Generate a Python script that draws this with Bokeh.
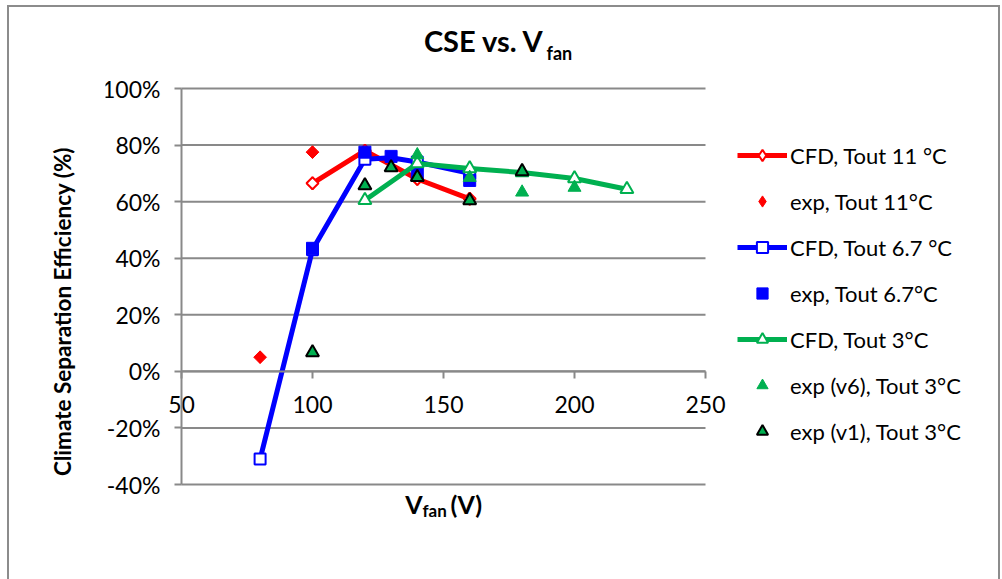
import math
from bokeh.plotting import figure
from bokeh.models import (Legend, LegendItem, Label, LinearAxis, FixedTicker,
                          NumeralTickFormatter, Range1d, InlineStyleSheet)
from bokeh.embed import file_html
from bokeh.resources import INLINE

# ---------------- data ----------------
cfd11_x = [100, 120, 140, 160]
cfd11_y = [0.665, 0.78, 0.68, 0.61]
exp11_x = [80, 100]
exp11_y = [0.05, 0.775]

cfd67_x = [80, 100, 120, 130, 140, 160]
cfd67_y = [-0.31, 0.43, 0.75, 0.755, 0.74, 0.70]
cfd67_marker_x = [80, 100, 120, 140, 160]
cfd67_marker_y = [-0.31, 0.43, 0.75, 0.74, 0.70]
exp67_x = [100, 120, 130, 140, 160]
exp67_y = [0.435, 0.775, 0.76, 0.70, 0.675]

cfd3_x = [120, 140, 160, 180, 200, 220]
cfd3_y = [0.605, 0.735, 0.717, 0.703, 0.682, 0.644]
expv6_x = [140, 160, 180, 200]
expv6_y = [0.765, 0.685, 0.633, 0.65]
expv1_x = [100, 120, 130, 140, 160, 180]
expv1_y = [0.067, 0.657, 0.721, 0.686, 0.604, 0.707]

x_ticks = [50, 100, 150, 200, 250]
y_ticks = [-0.4, -0.2, 0.0, 0.2, 0.4, 0.6, 0.8, 1.0]

RED = "#FF0000"
BLUE = "#0000FF"
GREEN = "#00B050"
GRID = "#898989"
FONT = "Lato"

W, H = 1002, 579
# pixel box where the value grid lives
PX_L, PX_R, PX_T, PX_B = 181, 705, 88, 484
# frame (large, so texts are not clipped)
FL, FR, FT, FB = 105, W, 0, H - 56

kx = (PX_R - PX_L) / (x_ticks[-1] - x_ticks[0])
ky = (PX_B - PX_T) / (y_ticks[-1] - y_ticks[0])
x_range = Range1d(x_ticks[0] - (PX_L - FL) / kx, x_ticks[-1] + (FR - PX_R) / kx)
y_range = Range1d(y_ticks[0] - (FB - PX_B) / ky, y_ticks[-1] + (PX_T - FT) / ky)

p = figure(width=W, height=H, output_backend="svg", toolbar_location=None,
           x_range=x_range, y_range=y_range,
           x_axis_location=None, y_axis_location=None,
           min_border_left=FL, min_border_right=W - FR,
           min_border_top=FT, min_border_bottom=H - FB)
p.outline_line_color = None
p.background_fill_color = "white"
p.border_fill_color = "white"
p.grid.visible = False

# horizontal value grid lines (at the y tick values, spanning the x tick extent)
p.segment(x0=x_ticks[0], x1=x_ticks[-1], y0=y_ticks, y1=y_ticks,
          line_color=GRID, line_width=2)


def style_axis(ax, standoff):
    ax.axis_line_color = GRID
    ax.axis_line_width = 2
    ax.major_tick_line_color = GRID
    ax.major_tick_line_width = 2
    ax.major_tick_out = 7
    ax.major_tick_in = 0
    ax.minor_tick_line_color = None
    ax.major_label_text_font = FONT
    ax.major_label_text_font_size = "23px"
    ax.major_label_text_color = "#000000"
    ax.major_label_standoff = standoff


# y axis at x = 50
yax = LinearAxis(fixed_location=x_ticks[0], bounds=(y_ticks[0], y_ticks[-1]),
                 ticker=FixedTicker(ticks=y_ticks),
                 formatter=NumeralTickFormatter(format="0%"))
style_axis(yax, 14)
p.add_layout(yax, "left")

# x axis at y = 0
xax = LinearAxis(fixed_location=0, bounds=(x_ticks[0], x_ticks[-1]),
                 ticker=FixedTicker(ticks=x_ticks))
style_axis(xax, 18)
p.add_layout(xax, "below")

# ---------------- series ----------------
LW = 5
r1l = p.line(cfd11_x, cfd11_y, line_color=RED, line_width=LW)
# diamond proxies (used by the legend, hidden beneath the rotated squares)
lg1 = p.scatter(cfd11_x, cfd11_y, marker="diamond", size=12,
                fill_color="white", line_color=RED, line_width=2)
r1m = p.scatter(cfd11_x, cfd11_y, marker="square", angle=math.pi / 4,
                size=8.5, fill_color="white", line_color=RED, line_width=2)
lg2 = p.scatter(exp11_x, exp11_y, marker="diamond", size=12,
                fill_color=RED, line_color=RED, line_width=1)
r2 = p.scatter(exp11_x, exp11_y, marker="square", angle=math.pi / 4,
               size=9, fill_color=RED, line_color=RED, line_width=1)

r3l = p.line(cfd67_x, cfd67_y, line_color=BLUE, line_width=LW)
r3m = p.scatter(cfd67_marker_x, cfd67_marker_y, marker="square", size=11,
                fill_color="white", line_color=BLUE, line_width=2)
r4 = p.scatter(exp67_x, exp67_y, marker="square", size=12,
               fill_color=BLUE, line_color=BLUE, line_width=1)

r5l = p.line(cfd3_x, cfd3_y, line_color=GREEN, line_width=LW)
r5m = p.scatter(cfd3_x, cfd3_y, marker="triangle", size=13,
                fill_color="white", line_color=GREEN, line_width=2)
r6 = p.scatter(expv6_x, expv6_y, marker="triangle", size=13,
               fill_color=GREEN, line_color=GREEN, line_width=1)
r7 = p.scatter(expv1_x, expv1_y, marker="triangle", size=13,
               fill_color=GREEN, line_color="black", line_width=2)

legend = Legend(items=[
    LegendItem(label="CFD, Tout 11 °C", renderers=[r1l, lg1]),
    LegendItem(label="exp, Tout 11°C", renderers=[lg2]),
    LegendItem(label="CFD, Tout 6.7 °C", renderers=[r3l, r3m]),
    LegendItem(label="exp, Tout 6.7°C", renderers=[r4]),
    LegendItem(label="CFD, Tout 3°C", renderers=[r5l, r5m]),
    LegendItem(label="exp (v6), Tout 3°C", renderers=[r6]),
    LegendItem(label="exp (v1), Tout 3°C", renderers=[r7]),
], location=(737 - FL, FB - 445), glyph_width=50, glyph_height=28, label_height=28,
   spacing=18, padding=0, margin=0, border_line_color=None, background_fill_alpha=0,
   label_text_font=FONT, label_text_font_size="22px", label_standoff=3,
   label_text_color="#000000")
p.add_layout(legend)


def lab(text, sx, sy, size, bold=True, align="left", angle=0.0):
    return Label(x=x_ticks[0], y=y_ticks[-1], x_offset=sx - PX_L, y_offset=PX_T - sy,
                 text=text, text_font=FONT, text_font_size=size,
                 text_font_style="bold" if bold else "normal",
                 text_align=align, text_baseline="middle", angle=angle,
                 text_color="#000000")


# title
p.add_layout(lab("CSE vs. V", 544, 40, "29px", align="right"))
p.add_layout(lab("fan", 546, 52, "18px", align="left"))
# x axis title
p.add_layout(lab("V", 422, 503, "25px", align="right"))
p.add_layout(lab("fan", 422, 510, "17px", align="left"))
p.add_layout(lab("(V)", 450, 503, "25px", align="left"))
# y axis title (outside the frame -> side panel)
p.add_layout(lab("Climate Separation Efficiency (%)", 62, 311, "22.5px",
                 align="center", angle=math.pi / 2), "left")

# outer chart border
p.stylesheets = [InlineStyleSheet(css=(
    ":host::after { content: ''; position: absolute; left: 7px; top: 5px; "
    "width: 993px; height: 640px; box-sizing: border-box; "
    "border: 2px solid #8c8c8c; border-bottom: none; pointer-events: none; }"))]

open("out.html", "w").write(file_html(p, INLINE))
